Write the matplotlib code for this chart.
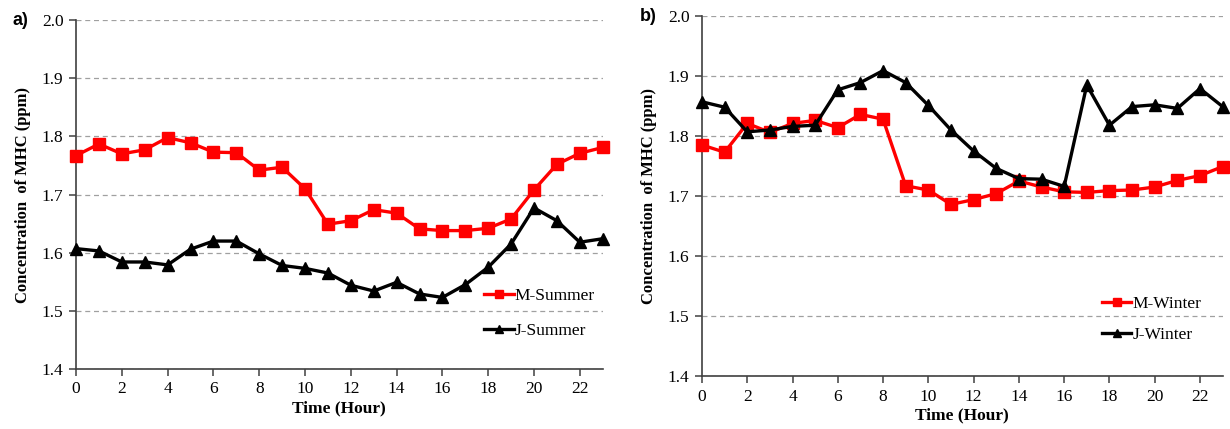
import numpy as np
import matplotlib.pyplot as plt
from matplotlib.lines import Line2D

plt.rcParams['font.family'] = ['Liberation Serif', 'DejaVu Serif']

hours = np.arange(24)

m_summer = [1.767, 1.787, 1.770, 1.777, 1.798, 1.789, 1.773, 1.772, 1.742, 1.747,
            1.710, 1.649, 1.655, 1.674, 1.668, 1.641, 1.638, 1.638, 1.642, 1.658,
            1.708, 1.752, 1.771, 1.781]
j_summer = [1.607, 1.603, 1.584, 1.584, 1.579, 1.606, 1.620, 1.620, 1.598, 1.578,
            1.573, 1.565, 1.544, 1.534, 1.549, 1.529, 1.523, 1.545, 1.575, 1.615,
            1.677, 1.655, 1.618, 1.624]
m_winter = [1.785, 1.773, 1.821, 1.806, 1.821, 1.826, 1.814, 1.836, 1.828, 1.717,
            1.710, 1.686, 1.694, 1.704, 1.725, 1.715, 1.707, 1.706, 1.709, 1.710,
            1.715, 1.726, 1.734, 1.749]
j_winter = [1.857, 1.848, 1.807, 1.810, 1.816, 1.818, 1.877, 1.889, 1.909, 1.889,
            1.851, 1.810, 1.775, 1.746, 1.729, 1.728, 1.716, 1.885, 1.818, 1.849,
            1.852, 1.846, 1.879, 1.849]

panels = [
    ('a)', [0.0618, 0.140, 0.4282, 0.813], m_summer, j_summer, 'M-Summer', 'J-Summer', (0.775, 0.16), 1.1),
    ('b)', [0.5707, 0.1235, 0.4233, 0.8392], m_winter, j_winter, 'M-Winter', 'J-Winter', (0.768, 0.158), 0.85),
]

fig = plt.figure(figsize=(12.3, 4.29), dpi=100)

for tag, rect, m, j, lm, lj, legpos, lsp in panels:
    ax = fig.add_axes(rect)
    ax.plot(hours, m, color='#ff0000', lw=2.4, marker='s', ms=8, zorder=3, clip_on=False)
    ax.plot(hours, j, color='black', lw=2.4, marker='^', ms=9, zorder=3, clip_on=False)
    ax.set_xlim(0, 23)
    ax.set_ylim(1.4, 2.0)
    ax.set_xticks(np.arange(0, 23, 2))
    ax.set_yticks(np.arange(1.4, 2.01, 0.1))
    ax.set_yticklabels([f'{v:.1f}' for v in np.arange(1.4, 2.01, 0.1)])
    ax.yaxis.grid(True, linestyle=(0, (4, 3)), color='#a0a0a0', lw=0.9)
    ax.set_axisbelow(True)
    for s in ['top', 'right']:
        ax.spines[s].set_visible(False)
    for s in ['left', 'bottom']:
        ax.spines[s].set_color('#404040')
        ax.spines[s].set_linewidth(1.2)
    ax.tick_params(axis='both', direction='out', length=5, width=1.1, color='#404040',
                   labelsize=12.5, pad=4)
    ax.set_xlabel('Time (Hour)', fontsize=12.5, fontweight='bold', labelpad=2)
    ax.set_ylabel('Concentration  of MHC (ppm)', fontsize=12, fontweight='bold', labelpad=8)
    ax.text(-0.12, 1.0, tag, transform=ax.transAxes, fontsize=13, fontweight='bold',
            family=['Liberation Sans', 'DejaVu Sans'], va='center', ha='left')
    handles = [Line2D([], [], color='#ff0000', lw=2.4, marker='s', ms=6),
               Line2D([], [], color='black', lw=2.4, marker='^', ms=6)]
    ax.legend(handles, [lm, lj], loc='center left', bbox_to_anchor=legpos, frameon=False,
              fontsize=12.5, handlelength=1.7, handletextpad=0.05, labelspacing=lsp,
              borderaxespad=0, borderpad=0)

fig.savefig('out.png', dpi=100)
